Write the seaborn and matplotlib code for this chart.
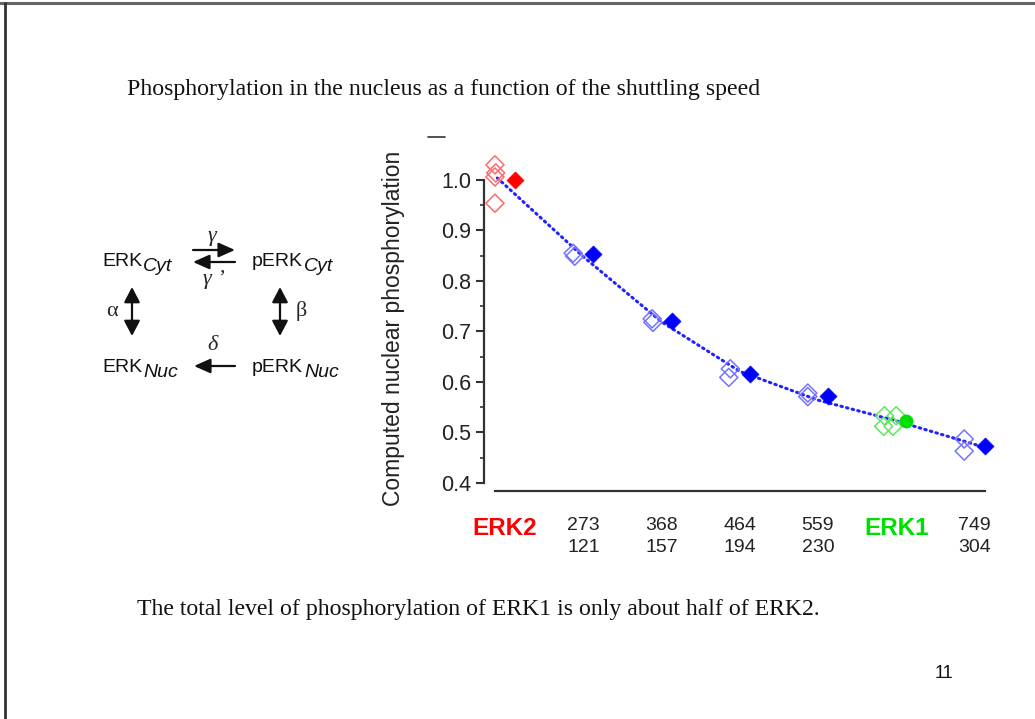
import numpy as np
import pandas as pd
import matplotlib
matplotlib.use("Agg")
import matplotlib.pyplot as plt
from matplotlib.lines import Line2D
import seaborn as sns

# ---------------- data ----------------
group_labels = ["ERK2", "273\n121", "368\n157", "464\n194", "559\n230", "ERK1", "749\n304"]
label_colors = ["#ff0000", "#222222", "#222222", "#222222", "#222222", "#00e000", "#222222"]

# open diamonds (individual runs): group index and value
open_group = [0, 0, 0, 0, 1, 1, 2, 2, 3, 3, 4, 4, 5, 5, 5, 5, 6, 6]
open_value = [1.030, 1.014, 1.006, 0.954, 0.855, 0.849, 0.725, 0.718, 0.626, 0.609,
              0.578, 0.571, 0.533, 0.533, 0.512, 0.512, 0.487, 0.463]
open_kind = ["erk2"] * 4 + ["mid"] * 8 + ["erk1"] * 4 + ["mid"] * 2

# filled markers (mean values)
filled_group = [0, 1, 2, 3, 4, 5, 6]
filled_value = [0.999, 0.853, 0.720, 0.616, 0.573, 0.522, 0.473]
filled_kind = ["erk2", "mid", "mid", "mid", "mid", "erk1", "mid"]

# dotted fit line
fit_x = [-0.10, 1.0, 2.0, 3.0, 4.0, 5.0, 6.14]
fit_y = [1.004, 0.848, 0.719, 0.621, 0.564, 0.523, 0.470]

# ---------------- style ----------------
sns.set_theme(style="white")
plt.rcParams["font.family"] = ["Liberation Sans", "DejaVu Sans"]

W, H = 1035, 719
fig = plt.figure(figsize=(W / 100, H / 100), dpi=100)
fig.patch.set_facecolor("white")

def px(x):
    return x / W

def py(y):
    return 1 - y / H

ax = fig.add_axes([px(484), py(491), px(990) - px(484), (491 - 160) / H])

# x offsets inside a group (open left, filled right)
open_off = [-0.13, -0.12, -0.13, -0.13, -0.13, -0.11, -0.12, -0.11, -0.12, -0.14,
            -0.13, -0.13, -0.15, 0.0, -0.16, -0.04, -0.13, -0.13]
df_open = pd.DataFrame({"x": np.array(open_group) + np.array(open_off),
                        "y": open_value, "kind": open_kind})
df_fill = pd.DataFrame({"x": np.array(filled_group) + 0.13,
                        "y": filled_value, "kind": filled_kind})
df_fit = pd.DataFrame({"x": fit_x, "y": fit_y})

open_pal = {"erk2": "#ff6a6a", "mid": "#7474ff", "erk1": "#5ee85e"}
fill_pal = {"erk2": "#ff0000", "mid": "#0000ff", "erk1": "#00dd00"}

sns.lineplot(data=df_fit, x="x", y="y", ax=ax, sort=False, color="#2222ff",
             lw=2.2, linestyle=(0, (0.5, 1.4)), dash_capstyle="round", zorder=2)
sns.scatterplot(data=df_open, x="x", y="y", hue="kind", palette=open_pal, ax=ax,
                marker="D", s=85, facecolor="none", linewidth=1.1, legend=False,
                zorder=3, clip_on=False)
coll = ax.collections[-1]
coll.set_edgecolors([open_pal[k] for k in open_kind])
coll.set_facecolors("none")

for kind, mk in [("erk2", "D"), ("mid", "D"), ("erk1", "o")]:
    sub = df_fill[df_fill["kind"] == kind]
    sns.scatterplot(data=sub, x="x", y="y", ax=ax, marker=mk,
                    s=75 if mk == "D" else 90, color=fill_pal[kind],
                    edgecolor=fill_pal[kind], linewidth=0.5, legend=False,
                    zorder=4, clip_on=False)

ax.set_xlim(-0.27, 6.20)
ax.set_ylim(0.384, 1.0396)

# spines
for s in ["top", "right"]:
    ax.spines[s].set_visible(False)
ax.spines["left"].set_bounds(0.4, 1.0)
ax.spines["bottom"].set_bounds(-0.13, 6.14)
for s in ["left", "bottom"]:
    ax.spines[s].set_color("#333333")
    ax.spines[s].set_linewidth(1.6)

ax.set_yticks([0.4, 0.5, 0.6, 0.7, 0.8, 0.9, 1.0])
ax.set_yticklabels(["0.4", "0.5", "0.6", "0.7", "0.8", "0.9", "1.0"])
ax.set_yticks(np.arange(0.45, 1.0, 0.1), minor=True)
ax.tick_params(axis="y", which="major", direction="out", length=6, width=1.5,
               color="#333333", labelsize=15.5, labelcolor="#222222", pad=3, left=True)
ax.tick_params(axis="y", which="minor", direction="out", length=3, width=1.2,
               color="#333333", left=True)

ax.set_xticks(range(len(group_labels)))
ax.set_xticklabels(group_labels)
ax.tick_params(axis="x", length=0, labelsize=14, pad=18.5)
for lab, c in zip(ax.get_xticklabels(), label_colors):
    lab.set_color(c)
    lab.set_linespacing(1.4)
    if c != "#222222":
        lab.set_fontweight("bold")
        lab.set_fontsize(17.5)
ax.set_xlabel("")
ax.set_ylabel("Computed nuclear phosphorylation", fontsize=16.5, color="#222222")
ax.yaxis.set_label_coords(-0.156, 0.49)

# ---------------- slide decoration ----------------
fig.add_artist(Line2D([0, 1], [py(3), py(3)], color="#666666", lw=2.2))
fig.add_artist(Line2D([px(5), px(5)], [py(3), 0], color="#333333", lw=2.0))
fig.add_artist(Line2D([px(428), px(445)], [py(137), py(137)], color="#333333", lw=1.2))

serif = ["Liberation Serif", "DejaVu Serif"]
fig.text(px(127), py(90), "Phosphorylation in the nucleus as a function of the shuttling speed",
         family=serif, fontsize=17.2, va="center", ha="left", color="#111111")
fig.text(px(137), py(610), "The total level of phosphorylation of ERK1 is only about half of ERK2.",
         family=serif, fontsize=17.1, va="center", ha="left", color="#111111")
fig.text(px(944), py(673), "11", fontsize=13, va="center", ha="center", color="#111111")

# ---------------- reaction scheme ----------------
renderer = fig.canvas.get_renderer()

def species(x, y, main, sub):
    t = fig.text(px(x), py(y), main, fontsize=14, va="baseline", ha="left", color="#111111")
    bb = t.get_window_extent(renderer)
    fig.text(bb.x1 / W + px(1), py(y + 5), sub, fontsize=14, style="italic",
             va="baseline", ha="left", color="#111111")

species(102, 266, "ERK", "Cyt")
species(252, 266, "pERK", "Cyt")
species(102, 372, "ERK", "Nuc")
species(252, 372, "pERK", "Nuc")

def arrow(x0, y0, x1, y1, style="-|>", hl=4.5, hw=2.0):
    fig.add_artist(matplotlib.patches.FancyArrowPatch(
        (px(x0), py(y0)), (px(x1), py(y1)), transform=fig.transFigure,
        arrowstyle=f"{style},head_length={hl},head_width={hw}", lw=1.6,
        color="#111111", shrinkA=0, shrinkB=0, mutation_scale=2.2))

arrow(193, 250, 235, 250)
arrow(235, 262, 193, 262)
arrow(132, 287, 132, 336, "<|-|>", 4.2, 2.2)
arrow(280, 287, 280, 336, "<|-|>", 4.2, 2.2)
arrow(235, 366, 194, 366)

fig.text(px(212), py(236), "γ", family=serif, style="italic", fontsize=16, ha="center", va="center")
fig.text(px(214), py(280), "γ ’", family=serif, style="italic", fontsize=16, ha="center", va="center")
fig.text(px(112), py(311), "α", family=serif, fontsize=16, ha="center", va="center")
fig.text(px(301), py(311), "β", family=serif, fontsize=16, ha="center", va="center")
fig.text(px(213), py(346), "δ", family=serif, style="italic", fontsize=16, ha="center", va="center")

fig.savefig("out.png", dpi=100, facecolor="white")
